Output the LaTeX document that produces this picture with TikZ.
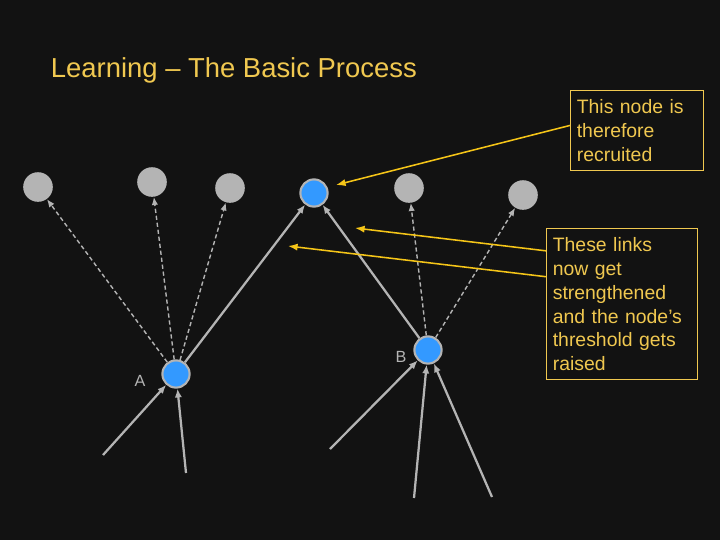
\documentclass[tikz,border=0pt]{standalone}
\usepackage{fontspec}
\setmainfont{Liberation Sans}
\usepackage{tikz}
\usetikzlibrary{arrows.meta,calc,positioning}
\definecolor{Board}{HTML}{121212}
\definecolor{Wire}{HTML}{B4B4B4}
\definecolor{Cell}{HTML}{3399FF}
\definecolor{Gold}{HTML}{F0C850}
\definecolor{Amber}{HTML}{F5C518}

\begin{document}
\begin{tikzpicture}[x=0.025cm,y=-0.025cm,
    idle/.style={circle,fill=Wire,inner sep=0pt,minimum size=0.74cm},
    active/.style={circle,fill=Cell,draw=Wire,line width=1.5pt,inner sep=0pt,minimum size=0.68cm},
    link/.style={Wire,line width=1.6pt,-{Latex[length=2.2mm,width=1.8mm]}},
    weak/.style={Wire,line width=1pt,dash pattern=on 3pt off 2pt,-{Latex[length=2mm,width=1.6mm]}},
    note/.style={Amber,line width=1.1pt,-{Latex[length=2.4mm,width=1.8mm]}},
    memo/.style={draw=Gold,line width=0.6pt,text=Gold,align=left,inner xsep=0.16cm,inner ysep=0.22cm,
      font=\fontsize{13.8}{17}\selectfont,anchor=north west}]
    \fill[Board] (0,0) rectangle (720,540);
    \useasboundingbox (0,0) rectangle (720,540);

    \node[anchor=west,text=Gold,font=\fontsize{19.5}{24}\selectfont] (title) at (46,70)
      {Learning -- The Basic Process};

    % top row
    \node[idle] (g1) at (38,187) {};
    \node[idle] (g2) at (152,182) {};
    \node[idle] (g3) at (230,188) {};
    \node[active] (recr) at (314,193) {};
    \node[idle] (g4) at (409,188) {};
    \node[idle] (g5) at (523,195) {};

    % bottom nodes
    \node[active] (a) at (176,374) {};
    \node[active] (b) at (428,350) {};
    \node[Wire,font=\fontsize{11.5}{14}\selectfont] (alab) at (140,381) {A};
    \node[Wire,font=\fontsize{11.5}{14}\selectfont] (blab) at (401,357) {B};

    \coordinate (ain1) at (103,455);
    \coordinate (ain2) at (186,473);
    \coordinate (bin1) at (330,449);
    \coordinate (bin2) at (414,498);
    \coordinate (bin3) at (492,497);

    \draw[link] (ain1) -- (a);
    \draw[link] (ain2) -- (a);
    \draw[link] (bin1) -- (b);
    \draw[link] (bin2) -- (b);
    \draw[link] (bin3) -- (b);

    \draw[weak] (a) -- (g1);
    \draw[weak] (a) -- (g2);
    \draw[weak] (a) -- (g3);
    \draw[link] (a) -- (recr);
    \draw[link] (b) -- (recr);
    \draw[weak] (b) -- (g4);
    \draw[weak] (b) -- (g5);

    % notes
    \node[memo,text width=3.0cm] (memo1) at (570,90)
      {This node is\\therefore\\recruited};
    \node[memo,text width=3.45cm] (memo2) at (546,228)
      {These links\\now get\\strengthened\\and the node’s\\threshold gets\\raised};

    \coordinate (tip1) at (336,185);
    \coordinate (tip2) at (355,228);
    \coordinate (tip3) at (288,246);

    \draw[note] ($(memo1.north west)!0.44!(memo1.south west)$) -- (tip1);
    \draw[note] ($(memo2.north west)!0.15!(memo2.south west)$) -- (tip2);
    \draw[note] ($(memo2.north west)!0.32!(memo2.south west)$) -- (tip3);
  \end{tikzpicture}
\end{document}
